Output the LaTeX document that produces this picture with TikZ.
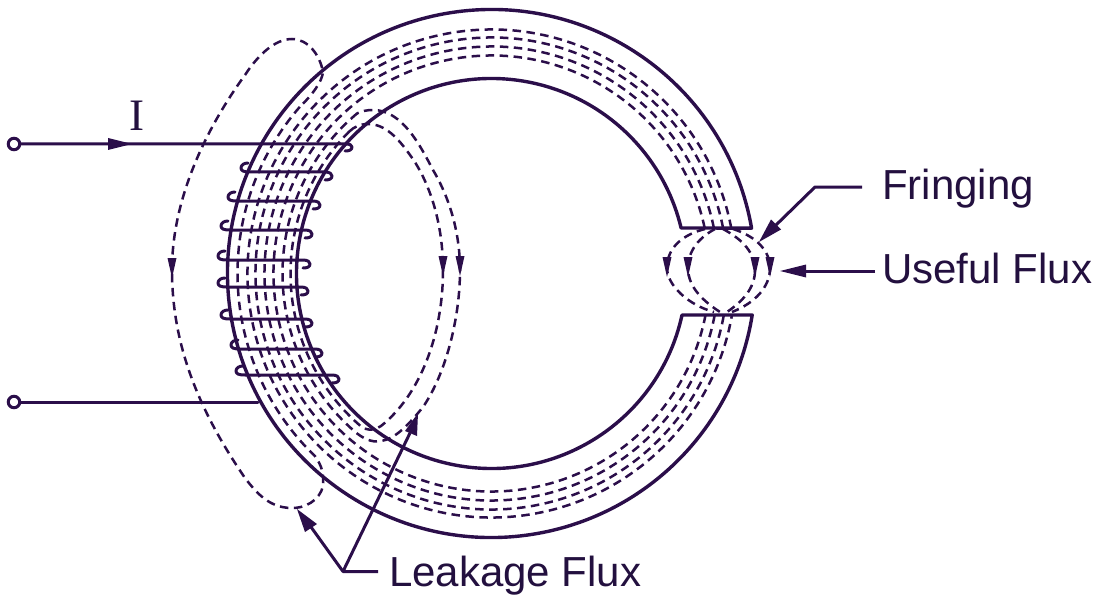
\documentclass[tikz,border=0pt]{standalone}
\usepackage{fontspec}
\setmainfont{Liberation Sans}
\newfontfamily\serifI{Liberation Serif}
\usetikzlibrary{calc}
\definecolor{ink}{HTML}{2B0E4A}
\definecolor{txt}{HTML}{23103F}
\tikzset{
 solidline/.style={draw=ink,line width=3.4pt,line cap=round,line join=round},
 wire/.style={draw=ink,line width=3pt,line cap=round,line join=round},
 flux/.style={draw=ink,line width=2.5pt,dash pattern=on 8.5pt off 5.5pt},
 fluxhead/.style={fill=ink},
 term/.style={circle,draw=ink,line width=3pt,fill=white,inner sep=0pt,minimum size=11.5pt},
 lab/.style={text=txt,font=\fontsize{42pt}{44pt}\selectfont,anchor=base west,inner sep=0pt},
}
\begin{document}
\begin{tikzpicture}[x=1pt,y=1pt]
\fill[white] (0,0) rectangle (1099,-604);
\useasboundingbox (0,0) rectangle (1099,-604);
\coordinate (C) at (491.5,-273.5);
% core
\path[solidline] ($(C)+(9.9:264pt)$) arc[start angle=9.9,end angle=350.96,radius=264pt]
  -- ($(C)+(-12.3:195pt)$) arc[start angle=347.7,end angle=13.5,radius=195pt] -- cycle;
% main flux lines
\foreach \R/\a/\b in {218/12.05/10.97,227/11.56/10.53,236/11.12/10.13,244/10.75/9.79}{
  \draw[flux] ($(C)+(\a:\R pt)$) arc[start angle=\a,end angle=360-\b,radius=\R pt];
}
% outer leakage
\draw[flux] ($(C)+(139:254pt)$) arc[start angle=139,end angle=226,radius=254pt]
  .. controls (322,-466) and (324,-474) .. (323,-486)
  .. controls (320,-500) and (305,-509) .. (290,-508)
  .. controls (270,-507) and (258,-495) .. (245,-478)
  .. controls (195,-405) and (172,-340) .. (172,-270)
  .. controls (172,-200) and (205,-130) .. (245,-75)
  .. controls (258,-55) and (275,-39) .. (292,-39)
  .. controls (308,-39) and (320,-55) .. (323,-72)
  .. controls (322,-82) and (312,-95) .. (299.8,-106.9);
% inner leakage
\draw[flux] ($(C)+(135:201pt)$) arc[start angle=135,end angle=229,radius=201pt]
  .. controls (365,-431) and (373,-431) .. (381,-426)
  .. controls (420,-395) and (443,-335) .. (443,-270)
  .. controls (443,-215) and (425,-175) .. (410,-155)
  .. controls (398,-138) and (385,-124) .. (368,-124)
  .. controls (360,-124) and (354,-127) .. (349.4,-131.4);
\draw[flux] ($(C)+(130:209pt)$) arc[start angle=130,end angle=229,radius=209pt]
  .. controls (362,-438) and (372,-443) .. (380,-441)
  .. controls (395,-440) and (410,-423) .. (423,-407)
  .. controls (445,-375) and (460,-320) .. (460,-270)
  .. controls (460,-225) and (445,-190) .. (433,-170)
  .. controls (420,-145) and (402,-110) .. (373,-110)
  .. controls (367,-110) and (362,-111) .. (357.1,-113.4);
% fringing flux in the gap
\draw[flux] (705,-229) .. controls (685,-234) and (667,-246) .. (667,-268)
  .. controls (667,-285) and (688,-305) .. (714,-312);
\draw[flux] (715,-229) .. controls (700,-237) and (688,-250) .. (688,-268)
  .. controls (688,-287) and (703,-301) .. (720,-312);
\draw[flux] (723,-229) .. controls (738,-237) and (755,-250) .. (755,-270)
  .. controls (755,-288) and (743,-301) .. (727,-312);
\draw[flux] (733,-229) .. controls (752,-235) and (770,-248) .. (770,-268)
  .. controls (770,-287) and (755,-303) .. (732,-312);
% flux arrowheads
\foreach \x/\yy in {172/258,443/256,460/256,667/257,688/257,755/257,770/257}{
  \fill[fluxhead] (\x-4.5,-\yy) -- (\x+4.5,-\yy) -- (\x,-\yy-20) -- cycle;
}
% winding
\foreach \y/\L/\Rr in {172/241/332,201/228/320,230/221/312,260/218/310,287/218/308,319/221/312,349/231/322,375/236/339}{
  \path[wire] (\L+7,-\y+9) .. controls (\L+3,-\y+9) and (\L,-\y+7) .. (\L,-\y+4)
    .. controls (\L,-\y+1) and (\L+3,-\y) .. (\L+9,-\y)
    -- (\Rr-7,-\y)
    .. controls (\Rr-2,-\y) and (\Rr,-\y-2) .. (\Rr,-\y-4)
    .. controls (\Rr,-\y-7) and (\Rr-3,-\y-8) .. (\Rr-7,-\y-8);
}
% terminals and leads
\node[term] (t1) at (14,-144) {};
\node[term] (t2) at (14,-402) {};
\coordinate (w1) at (345,-144);
\coordinate (w2) at (258,-402);
\coordinate (iarrow) at (132,-144);
\path[wire] (t1) -- (w1) .. controls (350,-144) and (352,-145) .. (352,-147)
  .. controls (352,-150) and (349,-151) .. (345,-151);
\draw[wire] (t2) -- (w2);
\fill[ink] (108,-138) -- (iarrow) -- (108,-150) -- cycle;
\node[text=txt,font=\serifI\fontsize{45pt}{47pt}\selectfont,inner sep=0pt,anchor=base] (ilab) at (137,-131) {I};
% labels
\node[lab] (fr) at (882,-200) {Fringing};
\node[lab] (uf) at (882,-283) {Useful Flux};
\node[lab] (lf) at (389,-586) {Leakage Flux};
\coordinate (fr1) at (862,-187);
\coordinate (fr2) at (815,-187);
\coordinate (frt) at (759,-242);
\draw[wire,line cap=butt] (fr1) -- (fr2) -- (775,-226);
\fill[ink] (frt) -- (771,-219.5) -- (781,-229.5) -- cycle;
\coordinate (uf1) at (875,-271);
\coordinate (uft) at (780,-271);
\draw[wire,line cap=butt] (uf1) -- (805,-271);
\fill[ink] (uft) -- (806,-264.5) -- (806,-277.5) -- cycle;
\coordinate (lj) at (343,-571.5);
\coordinate (lh) at (378,-571.5);
\coordinate (la) at (297,-509);
\coordinate (lb) at (418,-413);
\draw[wire,line cap=butt] (lh) -- (lj) -- (311,-527);
\draw[wire,line cap=butt] (lj) -- (410,-433);
\fill[ink] (la) -- (317,-524) -- (305,-532) -- cycle;
\fill[ink] (lb) -- (417,-436) -- (405,-431) -- cycle;
\end{tikzpicture}
\end{document}
